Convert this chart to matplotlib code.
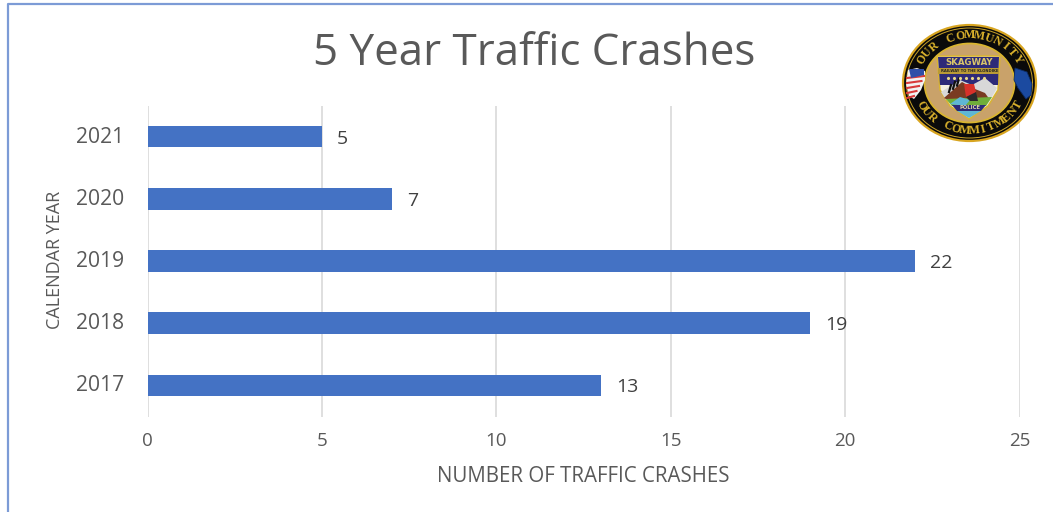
#!/usr/bin/env python3
"""Figure: 5 year traffic crashes, horizontal bars with the police badge."""
import numpy as np
import matplotlib
matplotlib.use("Agg")
import matplotlib.pyplot as plt
from matplotlib.patches import Ellipse, Polygon
from matplotlib.transforms import ScaledTranslation

matplotlib.rc("font", family="Open Sans")

W, H = 1053, 512

years = ["2017", "2018", "2019", "2020", "2021"]
crashes = [13, 19, 22, 7, 5]
x_ticks = [0, 5, 10, 15, 20, 25]

C_BAR = "#4472c4"
C_TEXT = "#595959"
C_GRID = "#dcdcdc"
C_FRAME = "#7c9bd6"

fig = plt.figure(figsize=(W / 100, H / 100), dpi=100, facecolor="white")

# ── chart ─────────────────────────────────────────────────────────────────────
ax = fig.add_axes([147.5 / W, 1 - 416.5 / H, 872 / W, 311 / H])
ax.barh(years, crashes, height=0.35, color=C_BAR, zorder=3)
ax.set_xlim(0, 25)
ax.set_ylim(-0.5, 4.5)
ax.set_xticks(x_ticks)
ax.grid(axis="x", color=C_GRID, linewidth=1.3, zorder=0)
ax.set_axisbelow(True)
for spine in ax.spines.values():
    spine.set_visible(False)
ax.tick_params(axis="x", length=0, labelsize=13.5, labelcolor=C_TEXT, pad=11)
ax.tick_params(axis="y", length=0, labelsize=15.2, labelcolor=C_TEXT, pad=16.5)
for tick in ax.get_yticklabels():
    tick.set_transform(tick.get_transform() + ScaledTranslation(0, 2 / 100, fig.dpi_scale_trans))

for i, v in enumerate(crashes):
    ax.annotate(str(v), (v, i), xytext=(15, -2), textcoords="offset pixels",
                ha="left", va="center", fontsize=14, color="#404040")

fig.text(583 / W, 1 - 476 / H, "NUMBER OF TRAFFIC CRASHES", ha="center", va="center",
         fontsize=14.8, color=C_TEXT)
fig.text(55 / W, 1 - 260 / H, "CALENDAR YEAR", ha="center", va="center",
         rotation=90, fontsize=13, color=C_TEXT)
fig.text(534 / W, 1 - 54 / H, "5 Year Traffic Crashes", ha="center", va="center",
         fontsize=31.6, color=C_TEXT)

# ── overlay in pixel coordinates: frame and badge ─────────────────────────────
ov = fig.add_axes([0, 0, 1, 1], facecolor="none")
ov.set_xlim(0, W)
ov.set_ylim(H, 0)
ov.axis("off")
ov.plot([7.5, 7.5, W], [H, 3.5, 3.5], color=C_FRAME, linewidth=1.6)

cx, cy = 969.5, 83
ov.add_patch(Ellipse((cx, cy), 133, 116, fc="#0a0a0a", ec="#d8a520", lw=1.6))
ov.add_patch(Ellipse((cx, cy), 126, 110, fc="none", ec="#c9a227", lw=0.7))
ov.add_patch(Ellipse((cx, cy), 90, 79, fc="#c9a26a", ec="#d9b530", lw=1.3))

# flags either side of the badge
ov.add_patch(Polygon([(908, 70), (917, 68), (925, 71), (925, 80), (921, 90), (914, 99),
                      (909, 96), (906, 84)], fc="#f2f2f2", ec="none", zorder=3))
for y0 in (77, 82, 87, 92, 97):
    ov.plot([907, 924 - (y0 - 77) * 0.5], [y0 + 1, y0 - 1], color="#d83a3a", lw=1.5, zorder=3)
ov.add_patch(Polygon([(909, 69), (924, 69), (924, 75), (911, 78)], fc="#2f4fa8", zorder=4))
ov.add_patch(Polygon([(1015, 68), (1027, 72), (1032, 84), (1031, 95), (1026, 99),
                      (1018, 88), (1014, 80)], fc="#1b4aa0", ec="#0d2c66", lw=0.6))

# shield
ov.add_patch(Polygon([(937, 56), (1000, 56), (998, 90), (988, 106), (969, 119),
                      (950, 106), (940, 90)], fc="#f4f0e2", ec="#d9b530", lw=1.1))
ov.add_patch(Polygon([(938, 57), (999, 57), (998, 85), (940, 85)], fc="#2d2a78"))
ov.add_patch(Polygon([(938, 68), (999, 68), (999, 74), (938, 74)], fc="#b99a35"))
ov.add_patch(Polygon([(941, 92), (960, 80), (972, 85), (985, 78), (997, 88), (990, 100), (946, 100)],
                     fc="#d8d8d8"))
ov.add_patch(Polygon([(944, 98), (962, 82), (975, 89), (985, 93), (990, 100), (950, 101)], fc="#7a3b22"))
ov.add_patch(Polygon([(946, 99), (992, 97), (986, 106), (952, 106)], fc="#6fae3a"))
ov.add_patch(Polygon([(950, 104), (960, 97), (970, 100), (965, 106)], fc="#5fb7d4"))
ov.add_patch(Polygon([(952, 105), (986, 105), (981, 111), (957, 111)], fc="#2d2a78"))
ov.add_patch(Polygon([(957, 111), (981, 111), (969, 118)], fc="#5fb7d4"))
ov.add_patch(Polygon([(964, 84), (974, 84), (976, 92), (970, 98), (966, 97)], fc="#d8312a"))
ov.add_patch(Polygon([(966, 97), (976, 92), (978, 101), (970, 101)], fc="#2a2a2a"))
for hx in (950, 954, 958):
    ov.plot([hx - 1, hx + 1], [92 - (hx - 950) * 0.8, 85 - (hx - 950) * 0.8], color="#111111", lw=1.6)
ov.scatter([948, 954, 960, 966, 972, 978, 984], [78] * 7, s=2, marker="*", color="#e8d88a", zorder=4)

ov.text(cx, 62.5, "SKAGWAY", ha="center", va="center", fontsize=6.2, color="#d9c56a",
        family="DejaVu Sans", fontweight="bold")
ov.text(cx, 71, "RAILWAY TO THE KLONDIKE", ha="center", va="center", fontsize=2.7, color="#222222",
        family="DejaVu Sans", fontweight="bold")
ov.text(cx, 107.5, "POLICE", ha="center", va="center", fontsize=3.8, color="#e3d9a0",
        family="DejaVu Sans", fontweight="bold")


def arc_text(s, start, end, top=True):
    # one rotated letter at a time round the black ring
    angles = np.linspace(start, end, len(s))
    for ch, a in zip(s, angles):
        t = np.radians(a)
        px = cx + 55 * np.cos(t)
        py = cy - 47.5 * np.sin(t)
        rot = a - 90 if top else a + 90
        ov.text(px, py, ch, rotation=rot, rotation_mode="anchor", ha="center", va="center",
                fontsize=8.6, color="#d9b12c", family="Liberation Serif", fontweight="bold")


arc_text("OUR COMMUNITY", 150, 30, top=True)
arc_text("OUR COMMITMENT", 208, 332, top=False)

fig.savefig("out.png", dpi=100, facecolor="white")
plt.close(fig)
